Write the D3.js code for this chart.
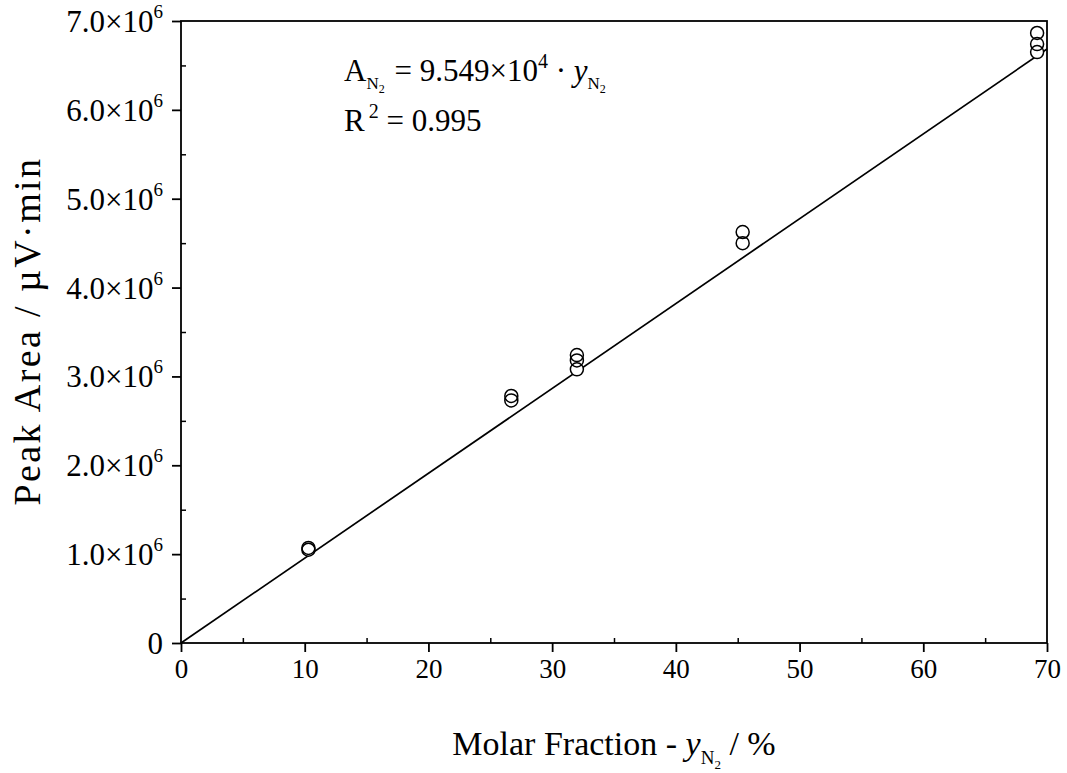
<!DOCTYPE html>
<html>
<head>
<meta charset="utf-8">
<script src="https://cdn.jsdelivr.net/npm/d3@7"></script>
<style>
  html, body { margin: 0; padding: 0; background: #fff; }
  svg { display: block; font-family: "Liberation Serif", "Times New Roman", serif; }
</style>
</head>
<body>
<svg id="chart" width="1067" height="773"></svg>
<script>
// Calibration data: N2 molar fraction (%) vs. peak area (µV·min)
const fractionN2 = [10.3, 10.3, 26.7, 26.7, 32.0, 32.0, 32.0, 45.4, 45.4, 69.2, 69.2, 69.2];
const peakArea   = [1.07e6, 1.05e6, 2.78e6, 2.73e6, 3.24e6, 3.18e6, 3.08e6, 4.625e6, 4.50e6, 6.865e6, 6.74e6, 6.65e6];

// Linear fit through origin
const slope = 9.549e4;
const fitRange = [0, 70];

// Axis ticks
const xMajorTicks = [0, 10, 20, 30, 40, 50, 60, 70];
const xMinorTicks = [5, 15, 25, 35, 45, 55, 65];
const yMajorTicks = [0, 1e6, 2e6, 3e6, 4e6, 5e6, 6e6, 7e6];
const yMinorTicks = [0.5e6, 1.5e6, 2.5e6, 3.5e6, 4.5e6, 5.5e6, 6.5e6];
const yTickMantissa = ["0", "1.0", "2.0", "3.0", "4.0", "5.0", "6.0", "7.0"];

const serif = "Liberation Serif";
const svg = d3.select("#chart");
const plotL = 181, plotR = 1047, plotT = 21, plotB = 643;

const x = d3.scaleLinear().domain([0, 70]).range([plotL, plotR]);
const y = d3.scaleLinear().domain([0, 7e6]).range([plotB, plotT]);

// Frame
svg.append("rect")
  .attr("x", plotL).attr("y", plotT)
  .attr("width", plotR - plotL).attr("height", plotB - plotT)
  .attr("fill", "none").attr("stroke", "#000").attr("stroke-width", 1.8);

// X axis: major ticks outward, minor ticks inward
const xAxisMajor = d3.axisBottom(x).tickValues(xMajorTicks).tickSize(9).tickPadding(7).tickFormat(d3.format("d"));
const gx = svg.append("g").attr("transform", `translate(0,${plotB})`).call(xAxisMajor);
gx.attr("font-family", serif).attr("font-size", 27);
gx.select(".domain").remove();
gx.selectAll("line").attr("stroke-width", 1.8);
gx.selectAll("text").attr("fill", "#000");

const gxMinor = svg.append("g").attr("transform", `translate(0,${plotB})`)
  .call(d3.axisTop(x).tickValues(xMinorTicks).tickSize(5).tickFormat(""));
gxMinor.select(".domain").remove();
gxMinor.selectAll("line").attr("stroke-width", 1.5);

// Y axis
const yAxisMajor = d3.axisLeft(y).tickValues(yMajorTicks).tickSize(9).tickFormat("");
const gy = svg.append("g").attr("transform", `translate(${plotL},0)`).call(yAxisMajor);
gy.select(".domain").remove();
gy.selectAll("line").attr("stroke-width", 1.8);

const gyMinor = svg.append("g").attr("transform", `translate(${plotL},0)`)
  .call(d3.axisRight(y).tickValues(yMinorTicks).tickSize(5).tickFormat(""));
gyMinor.select(".domain").remove();
gyMinor.selectAll("line").attr("stroke-width", 1.5);

// Y tick labels in scientific notation
yMajorTicks.forEach((v, i) => {
  const t = svg.append("text")
    .attr("x", plotL - 18).attr("y", y(v) + 11)
    .attr("text-anchor", "end").attr("font-size", 31).attr("fill", "#000");
  if (v === 0) {
    t.text("0");
  } else {
    t.append("tspan").text(yTickMantissa[i] + "\u00d710");
    t.append("tspan").attr("dy", -14).attr("font-size", 19).text("6");
  }
});

// Fit line
svg.append("line")
  .attr("x1", x(fitRange[0])).attr("y1", y(slope * fitRange[0]))
  .attr("x2", x(fitRange[1])).attr("y2", y(slope * fitRange[1]))
  .attr("stroke", "#000").attr("stroke-width", 1.7);

// Markers: white fills first, then outlines so overlaps stay visible
const pts = fractionN2.map((d, i) => ({ fx: d, area: peakArea[i] }));
svg.append("g").selectAll("circle").data(pts).join("circle")
  .attr("cx", d => x(d.fx)).attr("cy", d => y(d.area)).attr("r", 6.5)
  .attr("fill", "#fff").attr("stroke", "none");
svg.append("g").selectAll("circle").data(pts).join("circle")
  .attr("cx", d => x(d.fx)).attr("cy", d => y(d.area)).attr("r", 6.5)
  .attr("fill", "none").attr("stroke", "#000").attr("stroke-width", 1.5);

// Equation annotation
const eq = svg.append("text").attr("x", 344).attr("y", 81).attr("font-size", 31).attr("fill", "#000");
eq.append("tspan").text("A");
eq.append("tspan").attr("dy", 8).attr("font-size", 17).text("N");
eq.append("tspan").attr("dy", 4).attr("font-size", 12).text("2");
eq.append("tspan").attr("dy", -12).attr("dx", 2).text(" = 9.549\u00d710");
eq.append("tspan").attr("dy", -13).attr("font-size", 20).text("4");
eq.append("tspan").attr("dy", 13).text(" \u00b7 ");
eq.append("tspan").attr("font-style", "italic").text("y");
eq.append("tspan").attr("dy", 8).attr("font-size", 17).text("N");
eq.append("tspan").attr("dy", 4).attr("font-size", 12).text("2");

const r2 = svg.append("text").attr("x", 344).attr("y", 131).attr("font-size", 31).attr("fill", "#000");
r2.append("tspan").text("R");
r2.append("tspan").attr("dy", -13).attr("dx", 4).attr("font-size", 20).text("2");
r2.append("tspan").attr("dy", 13).text(" = 0.995");

// Axis titles
const xt = svg.append("text").attr("x", 614).attr("y", 755)
  .attr("text-anchor", "middle").attr("font-size", 34).attr("fill", "#000");
xt.append("tspan").text("Molar Fraction - ");
xt.append("tspan").attr("font-style", "italic").text("y");
xt.append("tspan").attr("dy", 9).attr("font-size", 19).text("N");
xt.append("tspan").attr("dy", 5).attr("font-size", 13).text("2");
xt.append("tspan").attr("dy", -14).text(" / %");

svg.append("text")
  .attr("transform", "translate(40,331) rotate(-90)")
  .attr("text-anchor", "middle").attr("font-size", 38).attr("letter-spacing", 2.4).attr("fill", "#000")
  .text("Peak Area / \u00b5V\u00b7min");
</script>
</body>
</html>
